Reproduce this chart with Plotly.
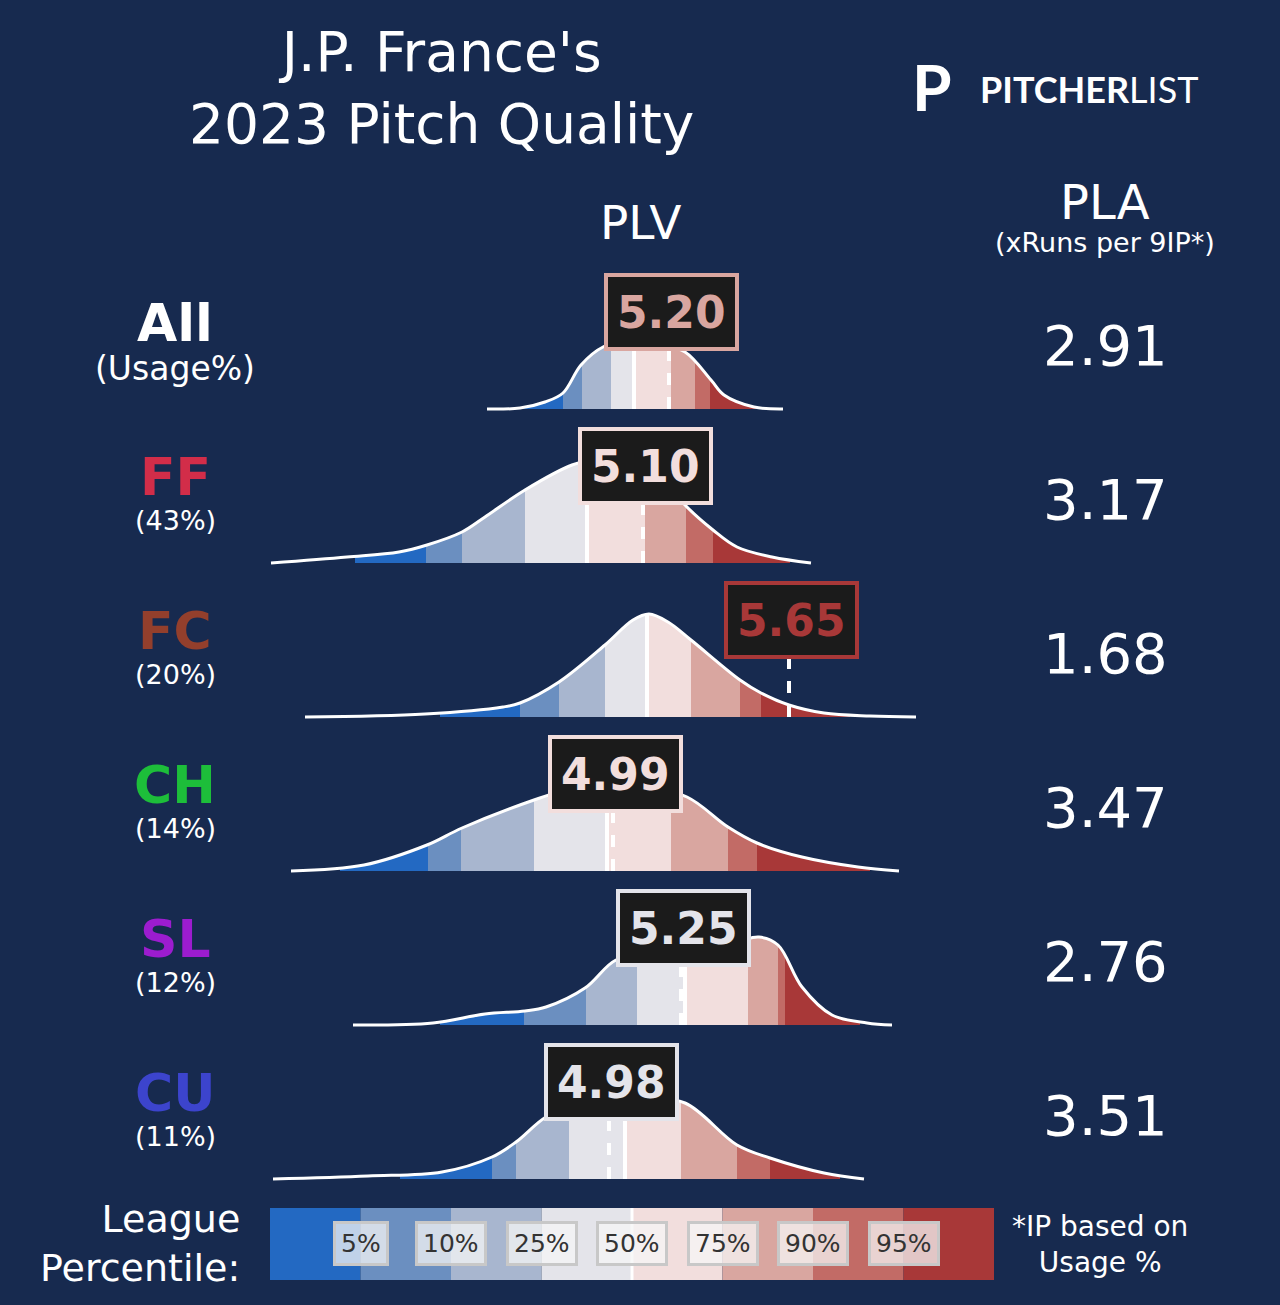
import plotly.graph_objects as go

BG = "#172a4f"
band_colors = ["#2369c2", "#6b8fc0", "#a8b6cf", "#e4e4ea", "#f2dedd", "#d9a6a0", "#c26b66", "#a83838"]

pitches = ["All", "FF", "FC", "CH", "SL", "CU"]
usage = ["(Usage%)", "(43%)", "(20%)", "(14%)", "(12%)", "(11%)"]
pitch_colors = ["#ffffff", "#d22d49", "#933f2c", "#1dbe3a", "#9c1ccf", "#3c44cd"]
plv = ["5.20", "5.10", "5.65", "4.99", "5.25", "4.98"]
plv_colors = ["#d9a6a0", "#f2dedd", "#a83838", "#f2dedd", "#e4e4ea", "#e4e4ea"]
pla = ["2.91", "3.17", "1.68", "3.47", "2.76", "3.51"]

# density curves (x position, height)
curve_x = [
    [487, 520, 545, 563, 581, 603, 620, 640, 660, 685, 711, 724, 754, 783],
    [271, 347, 399, 427, 462, 485, 525, 572, 600, 630, 660, 685, 713, 737, 772, 811],
    [305, 425, 503, 520, 559, 605, 633, 649, 668, 691, 740, 761, 789, 824, 870, 916],
    [291, 364, 427, 462, 534, 570, 600, 640, 687, 728, 757, 802, 858, 899],
    [353, 433, 485, 525, 546, 585, 616, 650, 700, 740, 759, 778, 802, 832, 867, 892],
    [273, 368, 442, 492, 516, 546, 580, 610, 645, 685, 737, 770, 824, 864],
]
curve_h = [
    [0, 1, 7, 16, 44, 62, 66, 67, 64, 57, 29, 14, 2, 0],
    [0, 6, 11, 18, 31, 46, 73, 98, 104, 103, 88, 58, 33, 16, 6, 0],
    [0, 3, 10, 14, 35, 72, 97, 103, 95, 77, 37, 24, 12, 4, 1, 0],
    [0, 6, 26, 43, 71, 82, 86, 85, 74, 44, 28, 14, 4, 0],
    [0, 2, 11, 14, 18, 37, 65, 70, 73, 84, 88, 80, 38, 10, 2, 0],
    [0, 3, 7, 22, 37, 62, 76, 80, 80, 76, 34, 21, 6, 0],
]
# percentile band edges (1,5,10,25,50,75,90,95,99)
edges = [
    [516, 563, 582, 611, 634, 671, 695, 710, 756],
    [355, 426, 462, 525, 587, 645, 686, 713, 790],
    [440, 520, 559, 605, 647, 691, 740, 761, 850],
    [340, 428, 461, 534, 607, 671, 728, 757, 870],
    [440, 524, 586, 637, 685, 748, 778, 785, 860],
    [400, 492, 516, 569, 625, 681, 737, 770, 840],
]
value_x = [669, 643, 789, 613, 681, 609]
baselines = [409, 563, 717, 871, 1025, 1179]

legend_labels = ["5%", "10%", "25%", "50%", "75%", "90%", "95%"]

fig = go.Figure()
shapes = []
annotations = []

for i in range(len(pitches)):
    base = baselines[i]
    top = base - max(curve_h[i]) - 4
    ys = [base - h for h in curve_h[i]]
    e = edges[i]
    for k in range(8):
        shapes.append(dict(type="rect", layer="below", x0=e[k], x1=e[k + 1], y0=base, y1=top,
                           fillcolor=band_colors[k], line_width=0))
    shapes.append(dict(type="line", layer="below", x0=e[4], x1=e[4], y0=base, y1=top,
                       line=dict(color="white", width=4)))
    # mask above the curve
    fig.add_trace(go.Scatter(x=[curve_x[i][0], curve_x[i][-1]], y=[top, top], mode="lines",
                             line=dict(width=0), hoverinfo="skip", showlegend=False))
    fig.add_trace(go.Scatter(x=curve_x[i], y=ys, mode="lines", fill="tonexty", fillcolor=BG,
                             line=dict(width=0, shape="spline"), hoverinfo="skip", showlegend=False))
    fig.add_trace(go.Scatter(x=curve_x[i], y=ys, mode="lines",
                             line=dict(color="white", width=3, shape="spline"),
                             hoverinfo="skip", showlegend=False))
    box_y = base - 97
    shapes.append(dict(type="line", x0=value_x[i], x1=value_x[i], y0=base, y1=box_y + 30,
                       line=dict(color="white", width=4, dash="dash")))
    annotations.append(dict(x=value_x[i] + 2, y=box_y, text="<b>%s</b>" % plv[i],
                            showarrow=False, font=dict(size=44, color=plv_colors[i]),
                            bgcolor="#1b1b1b", bordercolor=plv_colors[i], borderwidth=4, borderpad=9,
                            height=52))
    # left labels
    annotations.append(dict(x=175, y=base - 86, text="<b>%s</b>" % pitches[i], showarrow=False,
                            font=dict(size=52, color=pitch_colors[i])))
    annotations.append(dict(x=175, y=base - 41 if i == 0 else base - 43, text=usage[i], showarrow=False,
                            font=dict(size=33 if i == 0 else 27, color="white")))
    annotations.append(dict(x=1105, y=base - 64, text=pla[i], showarrow=False,
                            font=dict(size=56, color="white")))

# league percentile legend bar
seg = (994 - 270) / 8
for k in range(8):
    shapes.append(dict(type="rect", layer="below", x0=270 + k * seg, x1=270 + (k + 1) * seg,
                       y0=1208, y1=1280, fillcolor=band_colors[k], line_width=0))
shapes.append(dict(type="line", layer="below", x0=270 + 4 * seg, x1=270 + 4 * seg, y0=1208, y1=1280,
                   line=dict(color="white", width=3)))
for k, lab in enumerate(legend_labels):
    annotations.append(dict(x=270 + (k + 1) * seg, y=1243, text=lab, showarrow=False,
                            font=dict(size=25, color="#333333"), bgcolor="rgba(245,245,245,0.75)",
                            bordercolor="#c8c8c8", borderwidth=3, borderpad=5))

annotations += [
    dict(x=441, y=88, text="J.P. France's<br>2023 Pitch Quality", showarrow=False,
         font=dict(size=55, color="white")),
    dict(x=641, y=222, text="PLV", showarrow=False, font=dict(size=47, color="white")),
    dict(x=1105, y=202, text="PLA", showarrow=False, font=dict(size=48, color="white")),
    dict(x=1105, y=242, text="(xRuns per 9IP*)", showarrow=False, font=dict(size=27, color="white")),
    dict(x=242, y=1243, text="League<br>Percentile:", showarrow=False, xanchor="right", align="right",
         font=dict(size=38, color="white")),
    dict(x=1100, y=1244, text="*IP based on<br>Usage %", showarrow=False,
         font=dict(size=28, color="white")),
    dict(x=932, y=86, text="<b>P</b>", showarrow=False, font=dict(size=64, color="white", family="Lato")),
    dict(x=978, y=89, xanchor="left", text="<b>PITCHER</b>LIST", showarrow=False,
         font=dict(size=36, color="white", family="Lato")),
]

fig.update_layout(
    width=1280, height=1305, margin=dict(l=0, r=0, t=0, b=0),
    paper_bgcolor=BG, plot_bgcolor=BG,
    font=dict(family="DejaVu Sans"),
    xaxis=dict(range=[0, 1280], visible=False, fixedrange=True),
    yaxis=dict(range=[1305, 0], visible=False, fixedrange=True),
    shapes=shapes, annotations=annotations,
)

fig.write_html("out.html", config={"displayModeBar": False},
               post_script="document.body.style.margin='0';document.body.style.overflow='hidden';")
